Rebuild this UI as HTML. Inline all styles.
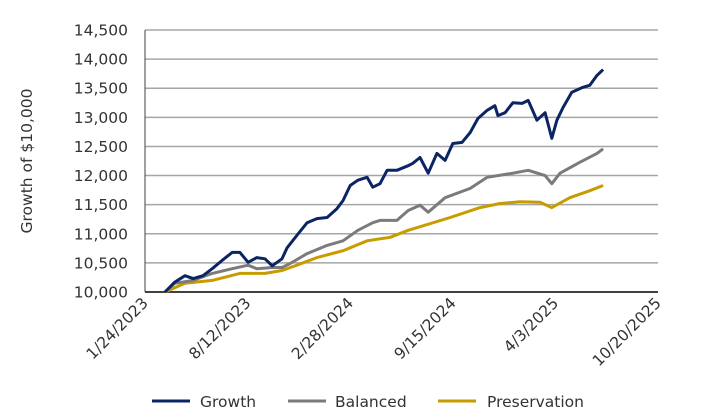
<!DOCTYPE html>
<html><head><meta charset="utf-8"><style>
html,body{margin:0;padding:0;background:#fff;}
svg{display:block;font-family:"DejaVu Sans","Liberation Sans",sans-serif;}
</style></head><body>
<svg id="chart" width="706" height="417" viewBox="0 0 706 417" xmlns="http://www.w3.org/2000/svg">
<g id="grid"></g>
<g id="yticks"></g>
<g id="xticks"></g>
<g id="series"></g>
<text transform="translate(32,161) rotate(-90)" text-anchor="middle" font-size="15.5" fill="#333">Growth of $10,000</text>
<g>
<g><line x1="152" y1="401" x2="190" y2="401" stroke="#0b2463" stroke-width="3"/><text x="200" y="407" font-size="15.5" fill="#333">Growth</text></g>
<g><line x1="288" y1="401" x2="326" y2="401" stroke="#7b7b7b" stroke-width="3"/><text x="335" y="407" font-size="15.5" fill="#333">Balanced</text></g>
<g><line x1="438" y1="401" x2="476" y2="401" stroke="#c89b00" stroke-width="3"/><text x="487" y="407" font-size="15.5" fill="#333">Preservation</text></g>
</g>
</svg>
<script>
// x values: days since 1/24/2023
const xTickLabels = ["1/24/2023","8/12/2023","2/28/2024","9/15/2024","4/3/2025","10/20/2025"];
const xTickDays = [0,200,400,600,800,1000];
const yTicks = [10000,10500,11000,11500,12000,12500,13000,13500,14000,14500];

const growthDays = [39,58,78,94,113,131,150,170,185,201,218,234,248,267,277,296,316,335,355,374,386,400,415,433,444,458,472,491,513,522,536,552,569,585,600,618,634,649,667,682,688,702,717,735,747,764,780,793,803,815,832,852,867,881,893];
const growthValues = [10000,10170,10280,10230,10280,10400,10540,10680,10680,10510,10590,10570,10450,10570,10760,10970,11190,11260,11280,11430,11570,11830,11920,11970,11800,11860,12090,12090,12170,12210,12310,12040,12380,12260,12550,12570,12740,12980,13120,13200,13030,13080,13250,13240,13290,12950,13080,12640,12950,13170,13430,13510,13550,13720,13820];

const balancedDays = [39,58,94,131,170,201,218,248,267,283,316,355,386,415,444,458,491,513,536,552,585,634,667,717,747,780,793,809,848,881,893];
const balancedValues = [10000,10150,10200,10320,10400,10460,10400,10420,10420,10490,10660,10800,10880,11060,11190,11230,11230,11400,11490,11370,11620,11780,11970,12040,12090,12000,11860,12040,12230,12380,12460];

const preservationDays = [39,78,131,185,234,267,296,335,386,433,478,513,595,653,692,731,770,793,828,867,893];
const preservationValues = [10000,10150,10200,10320,10320,10370,10460,10590,10710,10880,10940,11060,11280,11450,11520,11550,11540,11450,11620,11740,11830];

const X0=145, X1=658, Y0=292, Y1=30;
const xScale = d => X0 + d/1000*(X1-X0);
const yScale = v => Y0 - (v-10000)/4500*(Y0-Y1);
const NS="http://www.w3.org/2000/svg";
const mk=(t,a)=>{const e=document.createElementNS(NS,t);for(const k in a)e.setAttribute(k,a[k]);return e;};

const grid=document.getElementById('grid');
const yt=document.getElementById('yticks');
yTicks.forEach(v=>{
  const y=yScale(v);
  if(v>10000){
    const l=mk('line',{x1:X0,x2:X1,y1:y,y2:y,stroke:'#a6a6a6','stroke-width':1.5});
    
    
    grid.appendChild(l);
  }
  const t=mk('text',{x:128,y:y+5.5,'text-anchor':'end','font-size':15.5,fill:'#333'});
  t.textContent=v.toLocaleString('en-US');
  
  
  yt.appendChild(t);
});
const ax=mk('line',{x1:X0,x2:X1,y1:Y0,y2:Y0,stroke:'#404040','stroke-width':2});


grid.appendChild(ax);
const ay=mk('line',{x1:X0,x2:X0,y1:Y1,y2:Y0,stroke:'#404040','stroke-width':1});


grid.appendChild(ay);

const xt=document.getElementById('xticks');
xTickLabels.forEach((s,i)=>{
  const x=xScale(xTickDays[i]);
  const t=mk('text',{transform:`translate(${x+4},${Y0+12}) rotate(-45)`,'text-anchor':'end','font-size':15.5,fill:'#333'});
  t.textContent=s;
  
  
  xt.appendChild(t);
});

const sg=document.getElementById('series');
[[preservationDays,preservationValues,'#c89b00','preservation-line'],[balancedDays,balancedValues,'#7b7b7b','balanced-line'],[growthDays,growthValues,'#0b2463','growth-line']].forEach(([d,v,c,n])=>{
  const pts=d.map((di,i)=>xScale(di).toFixed(1)+','+yScale(v[i]).toFixed(1)).join(' ');
  const p=mk('polyline',{points:pts,fill:'none',stroke:c,'stroke-width':3,'stroke-linejoin':'round'});
  
  
  sg.appendChild(p);
});
</script>
</body></html>
